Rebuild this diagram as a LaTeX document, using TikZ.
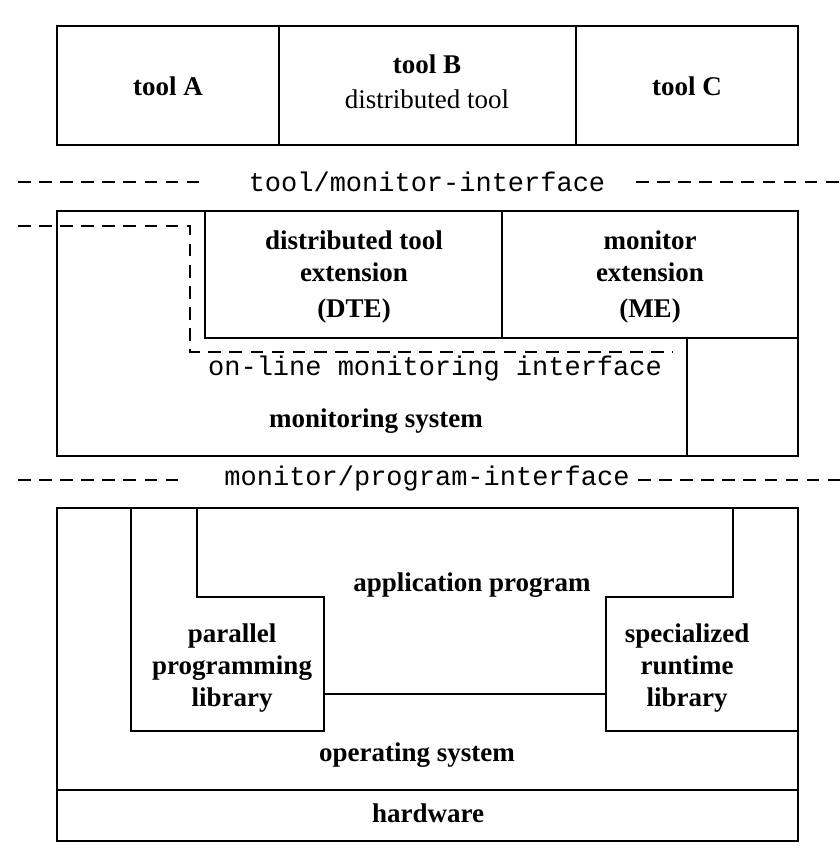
\documentclass[tikz,border=0pt]{standalone}
\usepackage{fontspec}
\setmainfont{Liberation Serif}
\setmonofont{Liberation Mono}
\usetikzlibrary{positioning}
\tikzset{
    layerline/.style={line width=0.8pt, line join=miter},
    ifaceline/.style={line width=0.8pt, dash pattern=on 9pt off 6pt},
    boldlabel/.style={font=\fontsize{19.2}{23}\selectfont\bfseries, align=center, inner sep=0pt},
    plainlabel/.style={font=\fontsize{19.2}{23}\selectfont, align=center, inner sep=0pt},
    ifacelabel/.style={font=\fontsize{19.2}{23}\selectfont\ttfamily, inner sep=0pt}
}

\begin{document}
\begin{tikzpicture}[x=0.025cm, y=-0.025cm]
    \useasboundingbox (0,0) rectangle (840,849);

    % tools
    \draw[layerline] (57,26) rectangle (798,145);
    \draw[layerline] (279,26) -- (279,145);
    \draw[layerline] (576,26) -- (576,145);
    \node[boldlabel] (toolA) at (168,86) {tool A};
    \node[boldlabel] (toolB) at (427,64) {tool B};
    \node[plainlabel, below=0.4cm of toolB] (toolBsub) {distributed tool};
    \node[boldlabel] (toolC) at (687,86) {tool C};

    % tool/monitor-interface
    \node[ifacelabel] (tmiface) at (427,182) {tool/monitor-interface};
    \draw[ifaceline] (18,182) -- (205,182);
    \draw[ifaceline] (636,182) -- (840,182);

    % monitoring system
    \draw[layerline] (57,211) rectangle (798,456);
    \draw[layerline] (205,211) rectangle (502,338);
    \draw[layerline] (502,211) rectangle (798,338);
    \draw[layerline] (502,338) -- (687,338) -- (687,456);
    \draw[ifaceline] (18,226) -- (190,226) -- (190,352) -- (673,352);
    \node[boldlabel] (dte) at (354,277) {distributed tool\\extension\\[3pt](DTE)};
    \node[boldlabel] (me) at (650,277) {monitor\\extension\\[3pt](ME)};
    \node[ifacelabel] (omiface) at (435,369) {on-line monitoring interface};
    \node[boldlabel] (monsys) at (376,421) {monitoring system};

    % monitor/program-interface
    \node[ifacelabel] (mpiface) at (427,479) {monitor/program-interface};
    \draw[ifaceline] (18,480) -- (185,480);
    \draw[ifaceline] (638,480) -- (840,480);

    % program, libraries, os, hardware
    \draw[layerline] (57,508) rectangle (798,841);
    \draw[layerline] (57,790) -- (798,790);
    \draw[layerline] (131,508) -- (131,731) -- (324,731) -- (324,597) -- (197,597) -- (197,508);
    \draw[layerline] (733,508) -- (733,597) -- (606,597) -- (606,731) -- (798,731);
    \draw[layerline] (324,694) -- (606,694);
    \node[boldlabel] (appprog) at (472,585) {application program};
    \node[boldlabel] (parlib) at (232,668) {parallel\\programming\\library};
    \node[boldlabel] (rtlib) at (687,668) {specialized\\runtime\\library};
    \node[boldlabel] (opsys) at (417,755) {operating system};
    \node[boldlabel] (hw) at (428,813) {hardware};
\end{tikzpicture}
\end{document}
